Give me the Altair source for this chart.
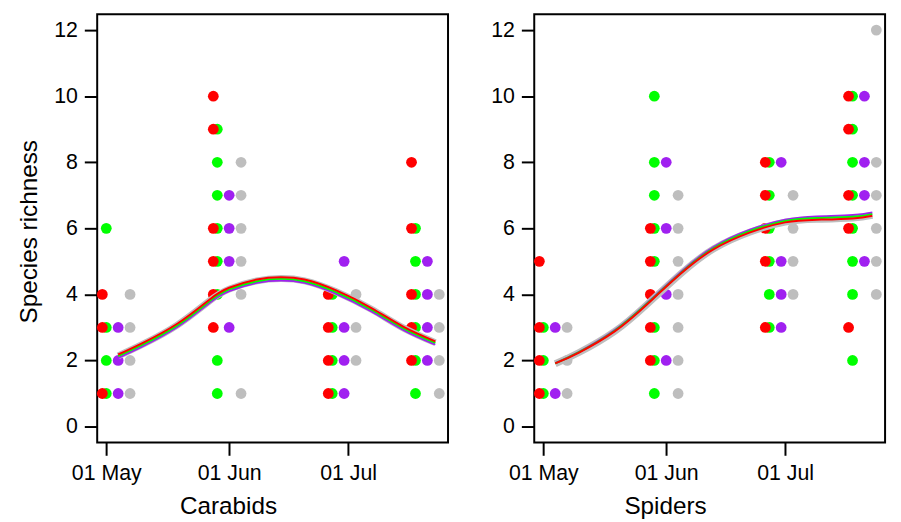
import altair as alt
import pandas as pd

# ---------------- data ----------------
SERIES = ["grey", "purple", "green", "red"]          # drawing order
SERIES_HEX = ["#BEBEBE", "#A020F0", "#00FF00", "#FF0000"]

# sampling dates per series (4 visits)
visit_red = ["2020/04/30", "2020/05/28", "2020/06/26", "2020/07/17"]
visit_green = ["2020/05/01", "2020/05/29", "2020/06/27", "2020/07/18"]
visit_purple = ["2020/05/04", "2020/06/01", "2020/06/30", "2020/07/21"]
visit_grey = ["2020/05/07", "2020/06/04", "2020/07/03", "2020/07/24"]

# Carabids species richness per visit
car_red = [[4, 3, 1], [10, 9, 6, 5, 4, 3], [4, 3, 2, 1], [8, 6, 4, 3, 2]]
car_green = [[6, 3, 2, 1], [9, 8, 7, 6, 5, 4, 2, 1], [4, 3, 2, 1], [6, 5, 4, 3, 2, 1]]
car_purple = [[3, 2, 1], [7, 6, 5, 3], [5, 3, 2, 1], [5, 4, 3, 2]]
car_grey = [[4, 3, 2, 1], [8, 7, 6, 5, 4, 1], [4, 3, 2], [4, 3, 2, 1]]

# Spiders species richness per visit
spi_red = [[5, 3, 2, 1], [6, 5, 4, 3, 2], [8, 7, 6, 5, 3], [10, 9, 7, 6, 3]]
spi_green = [[3, 2, 1], [10, 8, 7, 6, 5, 3, 2, 1], [8, 7, 6, 5, 4, 3], [10, 9, 8, 7, 6, 5, 4, 2]]
spi_purple = [[3, 1], [8, 6, 4, 2], [8, 5, 4, 3], [10, 8, 7, 5]]
spi_grey = [[3, 2, 1], [7, 6, 5, 4, 3, 2, 1], [7, 6, 5, 4], [12, 8, 7, 6, 5, 4]]

# fitted smooth curves
car_fit_dates = ["2020/05/04", "2020/05/10", "2020/05/19", "2020/05/27", "2020/06/01", "2020/06/08",
                 "2020/06/14", "2020/06/20", "2020/06/28", "2020/07/07", "2020/07/15", "2020/07/23"]
car_fit_red = [2.18, 2.52, 3.12, 3.84, 4.20, 4.45, 4.52, 4.45, 4.12, 3.58, 3.02, 2.58]
car_fit_green = [2.13, 2.47, 3.07, 3.79, 4.15, 4.40, 4.47, 4.40, 4.07, 3.53, 2.97, 2.53]
car_fit_purple = [2.08, 2.42, 3.02, 3.74, 4.10, 4.35, 4.42, 4.35, 4.02, 3.48, 2.92, 2.48]
car_fit_grey = [2.14, 2.48, 3.08, 3.80, 4.16, 4.41, 4.48, 4.41, 4.08, 3.54, 2.98, 2.54]

spi_fit_dates = ["2020/05/04", "2020/05/10", "2020/05/19", "2020/05/27", "2020/06/05", "2020/06/13",
                 "2020/06/22", "2020/07/01", "2020/07/09", "2020/07/18", "2020/07/23"]
spi_fit_red = [1.91, 2.24, 2.88, 3.68, 4.66, 5.37, 5.87, 6.18, 6.26, 6.30, 6.38]
spi_fit_green = [1.91, 2.25, 2.90, 3.70, 4.68, 5.40, 5.91, 6.22, 6.31, 6.35, 6.43]
spi_fit_purple = [1.92, 2.26, 2.92, 3.72, 4.71, 5.44, 5.95, 6.26, 6.36, 6.40, 6.48]
spi_fit_grey = [1.90, 2.24, 2.88, 3.68, 4.66, 5.38, 5.88, 6.19, 6.27, 6.31, 6.39]

x_ticks = [(2020, 5, 1), (2020, 6, 1), (2020, 7, 1)]

# ---------------- build tables ----------------
visits = {"red": visit_red, "green": visit_green, "purple": visit_purple, "grey": visit_grey}


def points_table(vals):
    rows = []
    for s in SERIES:
        for d, vs in zip(visits[s], vals[s]):
            for v in vs:
                rows.append({"date": d, "rich": v, "series": s})
    return pd.DataFrame(rows)


def curve_table(dates, vals):
    return pd.DataFrame({"date": dates, "rich": vals})


car_pts = points_table({"red": car_red, "green": car_green, "purple": car_purple, "grey": car_grey})
spi_pts = points_table({"red": spi_red, "green": spi_green, "purple": spi_purple, "grey": spi_grey})

FONT = "Liberation Sans"
x_scale = alt.Scale(domain=[alt.DateTime(year=2020, month=4, date=28, hours=17),
                            alt.DateTime(year=2020, month=7, date=26, hours=5)], nice=False)
y_scale = alt.Scale(domain=[-0.48, 12.48], nice=False, zero=False)
color_scale = alt.Scale(domain=SERIES, range=SERIES_HEX)


def panel(pts, fit_dates, fits, xtitle, ytitle):
    xaxis = alt.Axis(values=[alt.DateTime(year=y, month=m, date=d) for y, m, d in x_ticks],
                     format="%d %b", title=xtitle, labelPadding=7, titlePadding=11,
                     titleX=132, titleAlign="center")
    if ytitle:
        yaxis = alt.Axis(values=list(range(0, 13, 2)), title=ytitle, labelPadding=7, titlePadding=12,
                         titleY=219, titleAlign="center")
    else:
        yaxis = alt.Axis(values=list(range(0, 13, 2)), title=None, labelPadding=7)
    x = alt.X("date:T", scale=x_scale, axis=xaxis)
    y = alt.Y("rich:Q", scale=y_scale, axis=yaxis)
    layers = [
        alt.Chart(pts).mark_circle(size=118, opacity=1).encode(
            x=x, y=y, color=alt.Color("series:N", scale=color_scale, legend=None))
    ]
    for s, hx in zip(SERIES, SERIES_HEX):
        w = 7 if s == "grey" else 2
        layers.append(
            alt.Chart(curve_table(fit_dates, fits[s])).mark_line(
                interpolate="natural", strokeWidth=w, color=hx).encode(x=x, y=y))
    return alt.layer(*layers).properties(width=354, height=432)


left = panel(car_pts, car_fit_dates,
             {"red": car_fit_red, "green": car_fit_green, "purple": car_fit_purple, "grey": car_fit_grey},
             "Carabids", "Species richness")
right = panel(spi_pts, spi_fit_dates,
              {"red": spi_fit_red, "green": spi_fit_green, "purple": spi_fit_purple, "grey": spi_fit_grey},
              "Spiders", None)

chart = alt.hconcat(left, right, spacing=39).properties(
    padding={"left": 8, "top": 3, "right": 5, "bottom": 0}
).configure_view(stroke="black", strokeWidth=2).configure_axis(
    domain=False, grid=False, ticks=True, tickColor="black", tickWidth=2, tickSize=13,
    labelFont=FONT, labelFontSize=21.5, labelColor="black",
    titleFont=FONT, titleFontSize=24.5, titleFontWeight="normal", titleColor="black"
)

chart.save("out.html", embed_options={"renderer": "svg", "actions": False})
